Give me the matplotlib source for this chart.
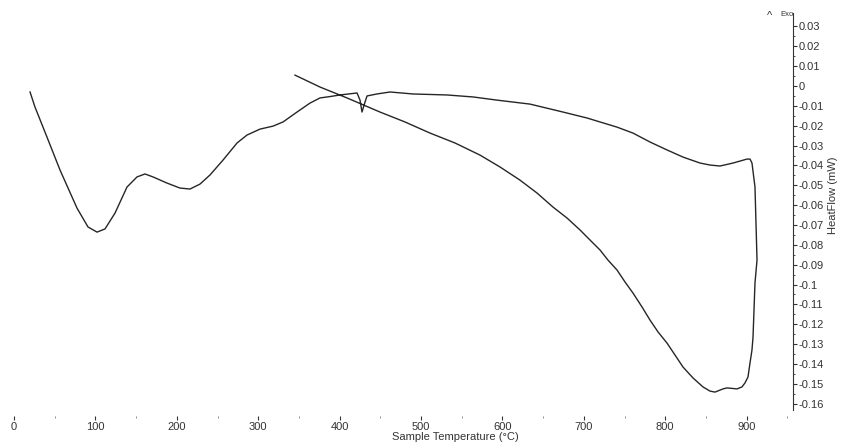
import matplotlib
matplotlib.use("Agg")
import matplotlib.pyplot as plt
import numpy as np

plt.rcParams['font.family'] = ['Liberation Sans Narrow', 'Liberation Sans', 'DejaVu Sans']

# heating run (temperature in C, heat flow in mW)
heat_temp = [19.7, 25.8, 40.5, 56.5, 77.4, 90.9, 102.0, 111.8, 124.1, 138.8,
             151.1, 160.9, 170.8, 188.0, 203.9, 216.2, 228.5, 240.8, 256.8, 274.0,
             286.2, 302.2, 318.2, 330.5, 347.7, 363.6, 375.9, 388.2, 400.5, 421.4,
             425.1, 427.5, 431.2, 433.7, 445.9, 461.9, 490.2, 531.9, 563.9, 593.4,
             633.9, 674.4, 703.9, 719.9, 740.8, 760.4, 781.3, 802.2, 821.9, 842.8,
             855.0, 867.3, 883.3, 900.5, 904.2]
heat_flow = [-0.0030, -0.0106, -0.0257, -0.0423, -0.0615, -0.0710, -0.0736, -0.0720, -0.0640, -0.0509,
             -0.0458, -0.0443, -0.0458, -0.0489, -0.0514, -0.0519, -0.0494, -0.0448, -0.0373, -0.0287,
             -0.0247, -0.0217, -0.0202, -0.0181, -0.0131, -0.0086, -0.0060, -0.0053, -0.0045, -0.0035,
             -0.0071, -0.0131, -0.0081, -0.0050, -0.0040, -0.0030, -0.0040, -0.0045, -0.0055, -0.0071,
             -0.0091, -0.0131, -0.0161, -0.0181, -0.0207, -0.0237, -0.0282, -0.0322, -0.0358, -0.0388,
             -0.0398, -0.0403, -0.0388, -0.0368, -0.0368]

# cooling run back down to ~345 C
cool_temp = [906.6, 910.3, 912.8, 910.3, 907.9, 906.6, 904.2, 901.7, 898.0, 894.3,
             888.2, 875.9, 871.0, 861.2, 855.0, 846.4, 834.2, 821.9, 812.0, 802.2,
             791.2, 781.3, 771.5, 760.4, 750.6, 740.8, 729.7, 719.9, 711.3, 695.3,
             679.4, 662.2, 642.5, 621.6, 597.1, 572.5, 541.8, 511.1, 480.3, 449.6,
             409.1, 375.9, 345.2]
cool_flow = [-0.0388, -0.0509, -0.0877, -0.0992, -0.1264, -0.1330, -0.1395, -0.1466, -0.1496, -0.1516,
             -0.1526, -0.1521, -0.1526, -0.1542, -0.1537, -0.1516, -0.1471, -0.1416, -0.1355, -0.1295,
             -0.1239, -0.1179, -0.1113, -0.1043, -0.0987, -0.0927, -0.0877, -0.0826, -0.0791, -0.0725,
             -0.0665, -0.0610, -0.0539, -0.0474, -0.0408, -0.0348, -0.0287, -0.0237, -0.0181, -0.0131,
             -0.0060, -0.0005, 0.0055]

x_ticks = [0, 100, 200, 300, 400, 500, 600, 700, 800, 900]
y_ticks = [0.03, 0.02, 0.01, 0, -0.01, -0.02, -0.03, -0.04, -0.05, -0.06, -0.07, -0.08,
           -0.09, -0.1, -0.11, -0.12, -0.13, -0.14, -0.15, -0.16]

W, H = 846, 446
fig = plt.figure(figsize=(W / 100, H / 100), dpi=100)
ax = fig.add_axes([14 / W, (H - 415.5) / H, (793 - 14) / W, (415.5 - 12.6) / H])

temp = np.concatenate([heat_temp, cool_temp])
flow = np.concatenate([heat_flow, cool_flow])
ax.plot(temp, flow, color='#262626', lw=1.0, solid_joinstyle='round')

ax.set_xlim(0, 957)
ax.set_ylim(-0.166, 0.037)

for s in ['left', 'top', 'bottom']:
    ax.spines[s].set_visible(False)
ax.spines['right'].set_bounds(-0.163, 0.037)
ax.spines['right'].set_color('#333333')

ax.yaxis.tick_right()
ax.set_yticks(y_ticks)
ax.set_yticklabels([f"{v:g}" for v in y_ticks])
ax.set_yticks(np.arange(-0.16, 0.035, 0.005), minor=True)
ax.tick_params(axis='y', which='major', length=3, pad=1, labelsize=8, colors='#333333')
ax.tick_params(axis='y', which='minor', length=1.5, colors='#333333')

ax.set_xticks(x_ticks)
ax.set_xticks(np.arange(50, 1000, 100), minor=True)
ax.tick_params(axis='x', which='major', length=3, pad=2, labelsize=8, colors='#333333')
ax.tick_params(axis='x', which='minor', length=1.5, colors='#777777')

fig.text(455 / W, (H - 437) / H, "Sample Temperature (°C)", ha='center', va='center',
         fontsize=8, color='#333333')
fig.text(833 / W, (H - 195) / H, "HeatFlow (mW)", ha='center', va='center',
         rotation=90, fontsize=8, color='#333333')
fig.text(770 / W, (H - 16) / H, "^", ha='center', va='center', fontsize=8, color='#333333')
fig.text(787 / W, (H - 15) / H, "Exo", ha='center', va='center', fontsize=5.5, color='#333333')

fig.savefig("out.png", dpi=100)
